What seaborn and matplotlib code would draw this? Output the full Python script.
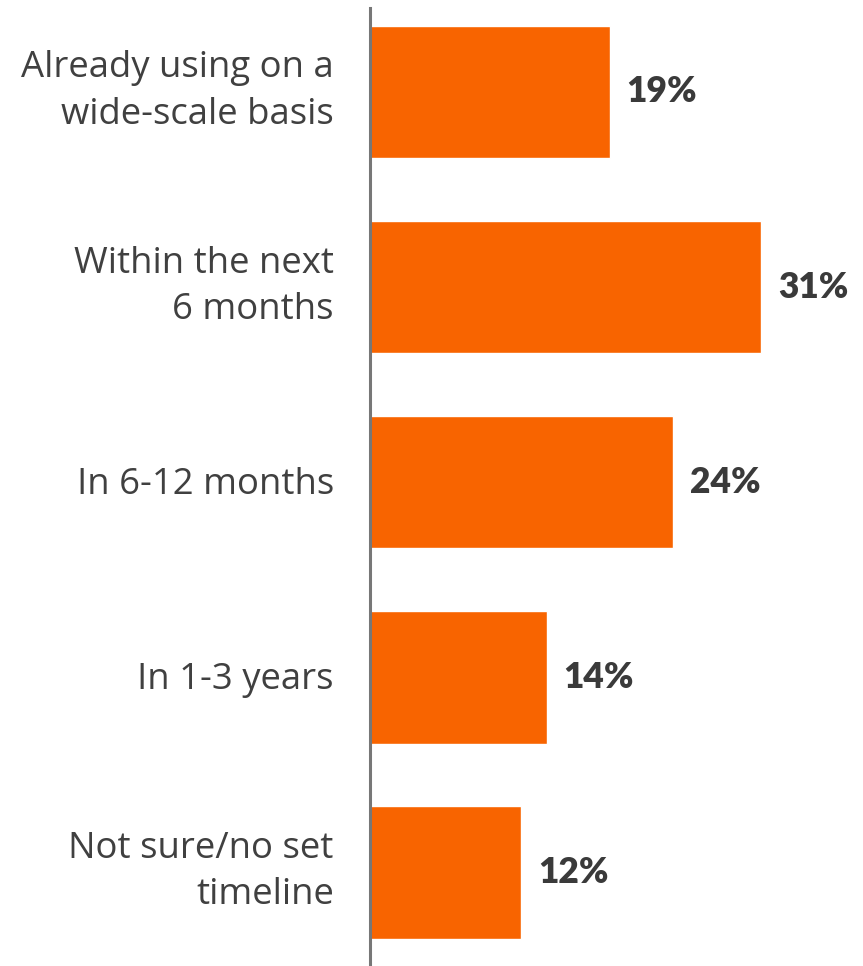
import pandas as pd
import matplotlib.pyplot as plt
import matplotlib.transforms as mtransforms
import seaborn as sns

categories = [
    "Already using on a\nwide-scale basis",
    "Within the next\n6 months",
    "In 6-12 months",
    "In 1-3 years",
    "Not sure/no set\ntimeline",
]
values = [19, 31, 24, 14, 12]

data = pd.DataFrame({"category": categories, "value": values})

sns.set_style("white")
plt.rcParams["font.family"] = ["Open Sans", "DejaVu Sans"]

fig = plt.figure(figsize=(8.63, 9.66), dpi=100)
ax = fig.add_axes([0.4287, 0.0, 0.5713, 0.9917])

sns.barplot(data=data, y="category", x="value", orient="h",
            color="#F86400", saturation=1, width=0.68, ax=ax)

# value labels to the right of each bar
for i, v in enumerate(values):
    ax.text(v + 1.35, i, f"{v}%", va="center", ha="left",
            fontsize=25.5, fontweight="heavy", color="#3a3a3a",
            family=["Lato", "DejaVu Sans"])

ax.set_xlim(0, 39.1)
ax.set_ylim(4.48, -0.43)
ax.set_xlabel("")
ax.set_ylabel("")
ax.set_xticks([])
ax.tick_params(axis="y", length=0, pad=26, labelsize=26.3, labelcolor="#404040")
for lab in ax.get_yticklabels():
    lab.set_linespacing(1.38)
    up = 0.10 if "\n" in lab.get_text() else 0.02
    lab.set_transform(lab.get_transform() +
                      mtransforms.ScaledTranslation(0, up, fig.dpi_scale_trans))
for side in ["top", "right", "bottom"]:
    ax.spines[side].set_visible(False)
ax.spines["left"].set_color("#777777")
ax.spines["left"].set_linewidth(2.2)

fig.savefig("out.png", dpi=100)
